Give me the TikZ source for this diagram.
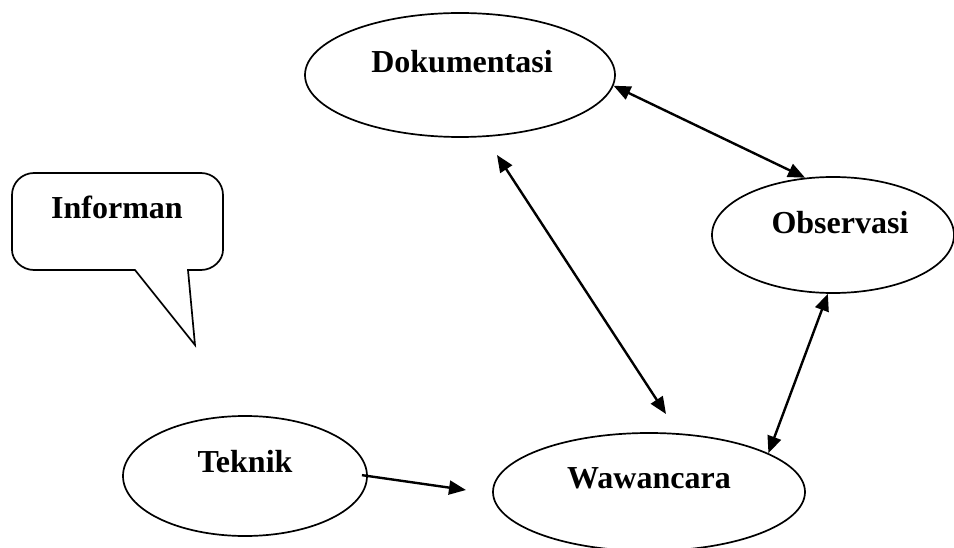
\documentclass[tikz,border=0pt]{standalone}
\usepackage{fontspec}
\setmainfont{Liberation Serif}
\usetikzlibrary{shapes.geometric,arrows.meta}
\begin{document}
\begin{tikzpicture}[x=1pt,y=-1pt,
  oval/.style={draw, line width=1.7pt, ellipse, inner sep=0pt},
  lbl/.style={font=\fontsize{32}{38}\selectfont\bfseries, inner sep=0pt},
  tip/.tip={Triangle[length=17pt,width=14pt]},
  conn/.style={line width=2.4pt, tip-tip},
  oneway/.style={line width=2.4pt, -tip}]
\useasboundingbox (0,0) rectangle (954,548);
% callout
\draw[line width=1.7pt, line join=miter]
  (135,270) -- (34,270) .. controls (21.85,270) and (12,260.15) .. (12,250)
  -- (12,195) .. controls (12,182.85) and (21.85,173) .. (34,173)
  -- (201,173) .. controls (213.15,173) and (223,182.85) .. (223,195)
  -- (223,250) .. controls (223,260.15) and (213.15,270) .. (201,270)
  -- (188,270) -- (195,345) -- cycle;
\node[lbl] (inf) at (117,207) {Informan};
% ellipses
\node[oval, minimum width=310pt, minimum height=124pt,
  label={[lbl, xshift=2pt, yshift=13pt]center:Dokumentasi}] (dok) at (460,75) {};
\node[oval, minimum width=242pt, minimum height=116pt,
  label={[lbl, xshift=7pt, yshift=12pt]center:Observasi}] (obs) at (833,235) {};
\node[oval, minimum width=312pt, minimum height=118pt,
  label={[lbl, yshift=14pt]center:Wawancara}] (waw) at (649,492) {};
\node[oval, minimum width=244pt, minimum height=120pt,
  label={[lbl, yshift=14pt]center:Teknik}] (tek) at (245,476) {};
% connectors
\coordinate (dw1) at (497,155);
\coordinate (dw2) at (666,414);
\coordinate (tw) at (466,490);
\draw[conn] (dok.-4) -- (obs.116);
\draw[conn] (obs.-95) -- (waw.18);
\draw[conn] (dw1) -- (dw2);
\draw[oneway, shorten <=-6pt] (tek.east) -- (tw);
\end{tikzpicture}
\end{document}
